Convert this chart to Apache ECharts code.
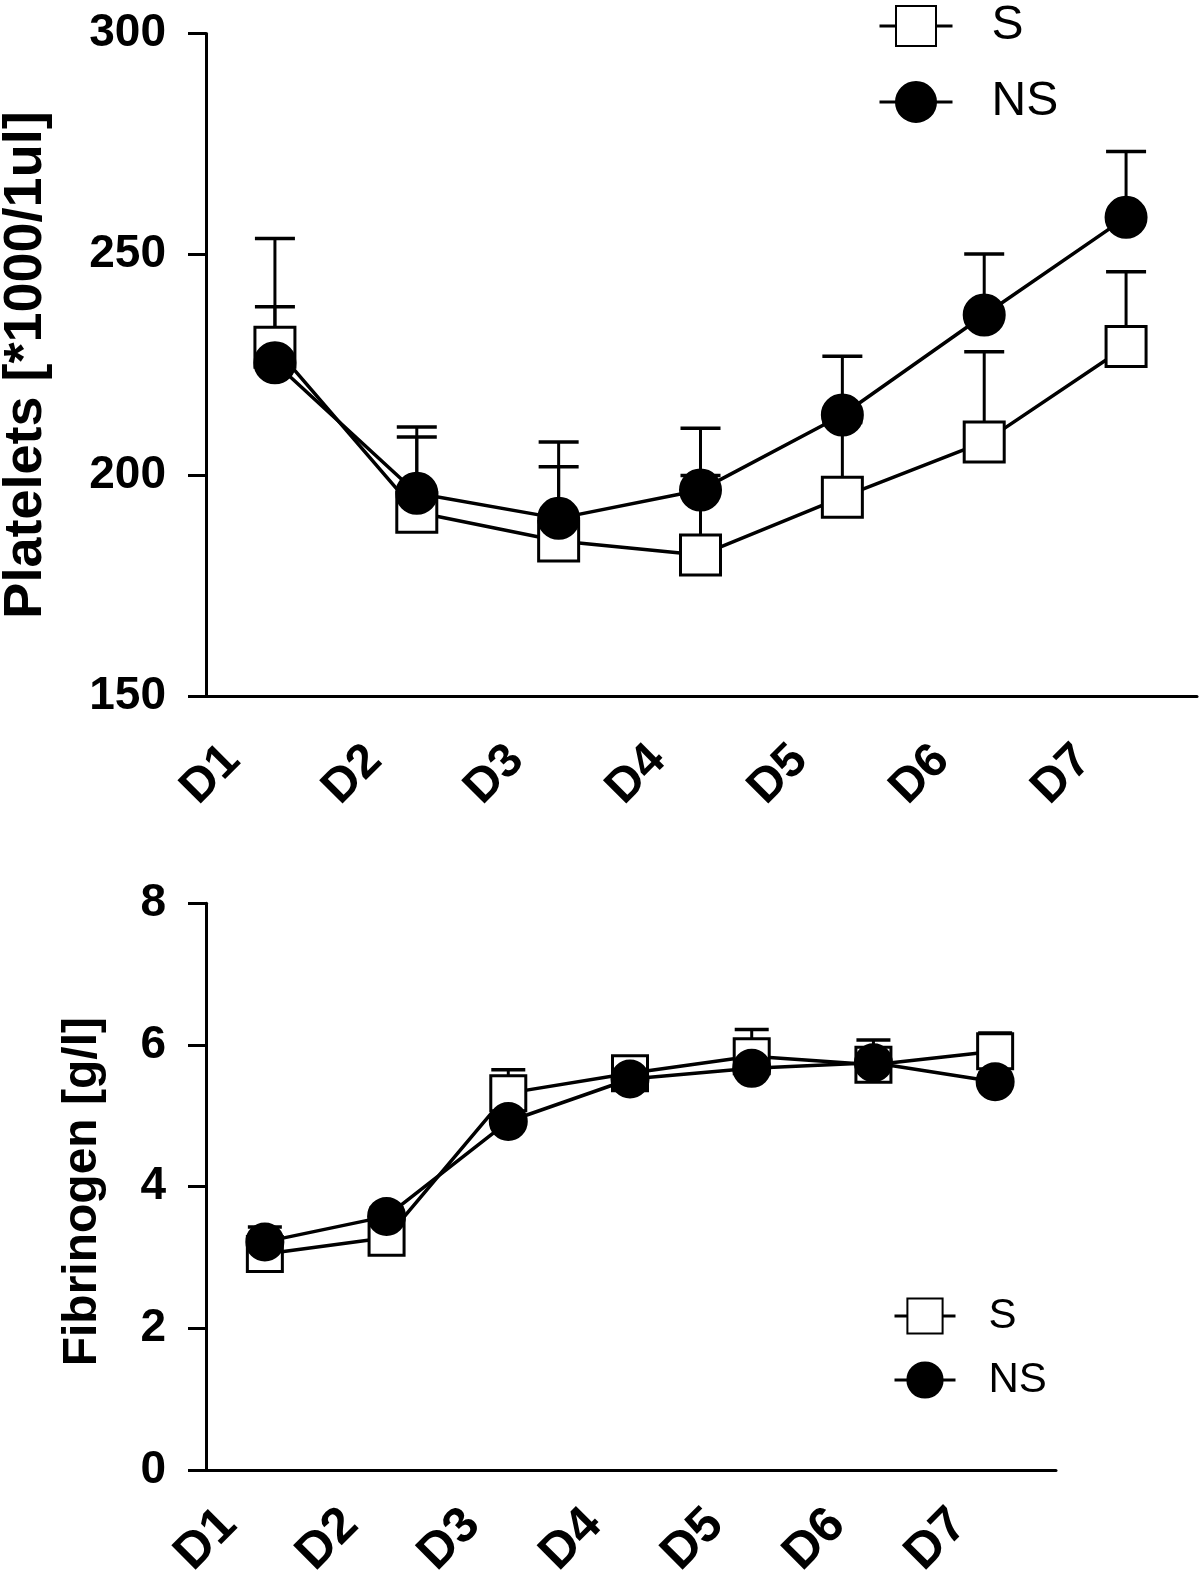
<!DOCTYPE html>
<html><head><meta charset="utf-8">
<script src="https://cdn.jsdelivr.net/npm/echarts@6/dist/echarts.min.js"></script>
<style>html,body{margin:0;padding:0;background:#fff}#c{width:1200px;height:1581px}</style>
</head><body><div id="c"></div>
<script>
// ---- data ----
const days = ['D1', 'D2', 'D3', 'D4', 'D5', 'D6', 'D7'];
const seriesNames = ['S', 'NS'];
// Platelets [*1000/1ul] (mean, and mean + SD)
const plateletS = [229, 191.7, 185.2, 182.0, 195.1, 207.6, 229.2];
const plateletNS = [225.5, 196.0, 190.3, 196.7, 213.7, 236.3, 258.4];
const plateletSUpper = [253.6, 211.0, 207.6, 200.0, 212.0, 228.0, 246.1];
const plateletNSUpper = [238.2, 208.7, 202.0, 210.7, 227.0, 250.1, 273.3];
const plateletTicks = [150, 200, 250, 300];
// Fibrinogen [g/l]
const fibS = [3.05, 3.28, 5.32, 5.60, 5.84, 5.72, 5.91];
const fibNS = [3.22, 3.58, 4.92, 5.52, 5.67, 5.75, 5.48];
const fibSUpper = [3.20, 3.40, 5.65, 5.75, 6.22, 6.07, 6.17];
const fibNSUpper = [3.43, 3.70, 5.00, 5.65, 5.80, 5.90, 5.60];
const fibTicks = [0, 2, 4, 6, 8];

const FONT = '"Liberation Sans", Arial, Helvetica, sans-serif';
const BLACK = '#000';

function errBars(values, uppers, capHalf, idx) {
  return {
    type: 'custom', xAxisIndex: idx, yAxisIndex: idx, z: 1, silent: true,
    data: values.map((v, i) => [i, v, uppers[i]]),
    encode: { x: 0, y: [1, 2] },
    renderItem(params, api) {
      const x = api.value(0);
      const p0 = api.coord([x, api.value(1)]);
      const p1 = api.coord([x, api.value(2)]);
      return { type: 'group', children: [
        { type: 'line', shape: { x1: p0[0], y1: p0[1], x2: p1[0], y2: p1[1] }, style: { stroke: BLACK, lineWidth: 3 } },
        { type: 'line', shape: { x1: p1[0] - capHalf, y1: p1[1], x2: p1[0] + capHalf, y2: p1[1] }, style: { stroke: BLACK, lineWidth: 3.5 } }
      ] };
    }
  };
}
function connLine(values, idx) {
  return { type: 'line', xAxisIndex: idx, yAxisIndex: idx, z: 2, silent: true, symbol: 'none',
    data: values, lineStyle: { color: BLACK, width: 3.5 }, animation: false };
}
function markers(name, values, idx, size, filled) {
  return { type: 'line', name: name, xAxisIndex: idx, yAxisIndex: idx, z: filled ? 4 : 3, silent: true,
    data: values, symbol: filled ? 'circle' : 'rect', symbolSize: size, showSymbol: true,
    lineStyle: { width: 0, opacity: 0 },
    itemStyle: { color: filled ? BLACK : '#fff', borderColor: BLACK, borderWidth: 3 },
    emphasis: { disabled: true }, animation: false };
}

function xAxis(idx, fs, margin, pad) {
  return { type: 'category', gridIndex: idx, data: days, boundaryGap: true,
    axisLine: { lineStyle: { color: BLACK, width: 3 } },
    axisTick: { alignWithLabel: true, length: 18, lineStyle: { color: BLACK, width: 3 } },
    axisLabel: { rotate: 45, margin: margin, padding: [0, pad, 0, 0], color: BLACK, fontSize: fs, fontWeight: 'bold', fontFamily: FONT },
    splitLine: { show: false } };
}
function yAxis(idx, name, ticks, nameGap, nameFs, namePad) {
  return { type: 'value', gridIndex: idx, min: ticks[0], max: ticks[ticks.length - 1],
    interval: ticks[1] - ticks[0], offset: -2,
    name: name, nameLocation: 'middle', nameGap: nameGap,
    nameTextStyle: { color: BLACK, fontSize: nameFs, fontWeight: 'bold', fontFamily: FONT, padding: namePad },
    axisLine: { show: true, lineStyle: { color: BLACK, width: 3 } },
    axisTick: { show: true, length: 18, lineStyle: { color: BLACK, width: 3 } },
    axisLabel: { margin: 40, color: BLACK, fontSize: 46, fontWeight: 'bold', fontFamily: FONT },
    splitLine: { show: false } };
}

const chart = echarts.init(document.getElementById('c'));
chart.setOption({
  backgroundColor: '#fff',
  animation: false,
  grid: [
    { left: 204, top: 33.5, width: 993, height: 663, containLabel: false, outerBoundsMode: 'none' },
    { left: 204, top: 903.3, width: 852, height: 566.7, containLabel: false, outerBoundsMode: 'none' }
  ],
  xAxis: [xAxis(0, 48, 14, 60), xAxis(1, 50, 11, 51)],
  yAxis: [
    yAxis(0, 'Platelets [*1000/1ul]', plateletTicks, 153, 54, [0, 0, 0, 0]),
    yAxis(1, 'Fibrinogen [g/l]', fibTicks, 99, 48, [0, 10, 0, 0])
  ],
  legend: [
    { data: seriesNames, orient: 'vertical', left: 873, top: -4, itemWidth: 73, itemHeight: 50, itemGap: 26,
      selectedMode: false,
      lineStyle: { color: BLACK, width: 3, opacity: 1, type: 'solid' },
      textStyle: { color: BLACK, fontSize: 48, fontFamily: FONT, lineHeight: 50, padding: [0, 0, 0, 34] } },
    { data: seriesNames, orient: 'vertical', left: 888, top: 1289, itemWidth: 61, itemHeight: 44, itemGap: 20,
      selectedMode: false,
      lineStyle: { color: BLACK, width: 3, opacity: 1, type: 'solid' },
      textStyle: { color: BLACK, fontSize: 42, fontFamily: FONT, lineHeight: 44, padding: [0, 0, 0, 28] } }
  ],
  series: [
    errBars(plateletS, plateletSUpper, 20, 0),
    errBars(plateletNS, plateletNSUpper, 20, 0),
    connLine(plateletS, 0),
    connLine(plateletNS, 0),
    markers(seriesNames[0], plateletS, 0, 40, false),
    markers(seriesNames[1], plateletNS, 0, 40, true),
    errBars(fibS, fibSUpper, 17, 1),
    errBars(fibNS, fibNSUpper, 17, 1),
    connLine(fibS, 1),
    connLine(fibNS, 1),
    markers(seriesNames[0], fibS, 1, 35, false),
    markers(seriesNames[1], fibNS, 1, 36, true)
  ]
});
</script></body></html>
